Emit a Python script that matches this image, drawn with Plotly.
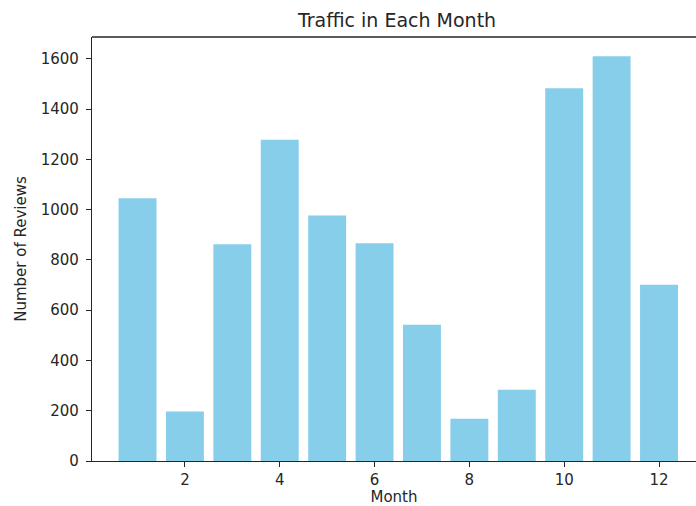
import plotly.graph_objects as go

months = [1, 2, 3, 4, 5, 6, 7, 8, 9, 10, 11, 12]
reviews = [1045, 197, 862, 1278, 977, 866, 542, 168, 283, 1483, 1610, 701]
x_ticks = [2, 4, 6, 8, 10, 12]
y_ticks = [0, 200, 400, 600, 800, 1000, 1200, 1400, 1600]

fig = go.Figure(go.Bar(x=months, y=reviews, width=0.8, marker=dict(color="#87CEEB", line=dict(width=0))))

font = "DejaVu Sans, sans-serif"
fig.update_layout(
    width=696, height=506,
    margin=dict(l=92, r=0, t=37, b=45, autoexpand=False),
    paper_bgcolor="white", plot_bgcolor="white",
    font=dict(family=font, size=15, color="#262626"),
    title=dict(text="Traffic in Each Month", x=0.505, xref="paper", xanchor="center",
               y=(506 - 20) / 506, yref="container", yanchor="middle",
               font=dict(size=19, color="#262626")),
    showlegend=False,
)
fig.update_xaxes(range=[0.04, 12.78], tickvals=x_ticks, ticks="outside", ticklen=5, tickcolor="#262626",
                 showline=True, linecolor="#262626", linewidth=1.3, mirror=False, showgrid=False, zeroline=False,
                 automargin=False, ticklabelstandoff=0,
                 title=dict(text="Month", standoff=9, font=dict(size=15)), tickfont=dict(size=15))
fig.update_yaxes(range=[0, 1687], tickvals=y_ticks, ticks="outside", ticklen=5, tickcolor="#262626",
                 showline=True, linecolor="#262626", linewidth=1.3, mirror=False, showgrid=False, zeroline=False,
                 automargin=False, ticklabelstandoff=4,
                 title=dict(text="Number of Reviews", standoff=10, font=dict(size=15)), tickfont=dict(size=15))
# top spine
fig.add_shape(type="line", xref="paper", yref="paper", x0=0, x1=1, y0=1, y1=1,
              line=dict(color="#262626", width=1.3))
fig.write_html("out.html", config={"displayModeBar": False},
               post_script="document.body.style.margin='0';document.body.style.overflow='hidden';")
